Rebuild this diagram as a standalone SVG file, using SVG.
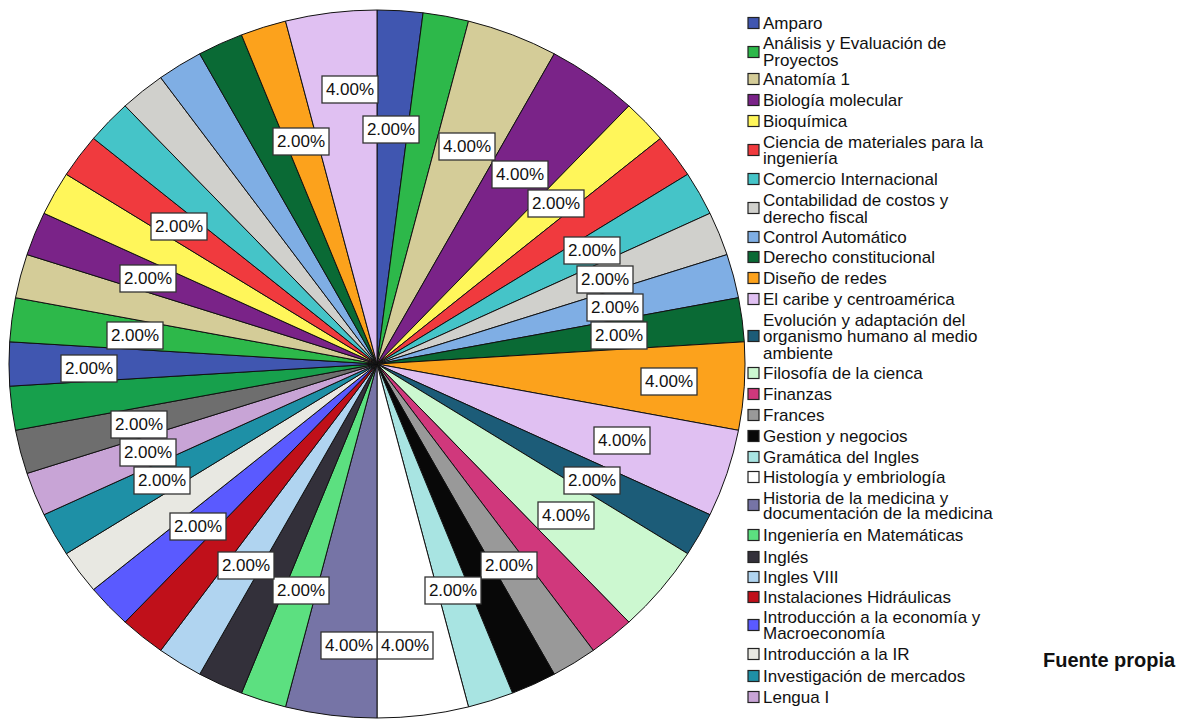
<svg xmlns="http://www.w3.org/2000/svg" width="1181" height="719" viewBox="0 0 1181 719">
<style>
.s{stroke:#111;stroke-width:1;stroke-linejoin:round}
.lb rect{fill:#fff;stroke:#333;stroke-width:1.3}
.lb text{font-family:"Liberation Sans",Arial,sans-serif;font-size:17px;fill:#111;text-anchor:middle}
.lg text{font-family:"Liberation Sans",Arial,sans-serif;font-size:17px;fill:#111}
.lg rect{stroke:#222;stroke-width:1.2}
.ft{font-family:"Liberation Sans",Arial,sans-serif;font-size:20px;font-weight:bold;fill:#111}
.amp{fill:#4056B0}.ana{fill:#2DB84A}.anat{fill:#D4CC98}.bio{fill:#7A2388}.bioq{fill:#FFF65A}
.cien{fill:#F03A3E}.com{fill:#45C4C8}.cont{fill:#D0D0CC}.ctrl{fill:#7FAEE4}.der{fill:#0A6A35}
.dis{fill:#FCA21C}.car{fill:#E0C0F2}.evo{fill:#1C5C78}.fil{fill:#CCF8D0}.fin{fill:#D0387C}
.fra{fill:#999999}.ges{fill:#080808}.gra{fill:#A8E4E2}.his{fill:#FFFFFF}.hme{fill:#7674A6}
.ing{fill:#5CE080}.ingl{fill:#33303A}.i8{fill:#B0D4F0}.ins{fill:#C0101A}.eco{fill:#5A5AFF}
.ir{fill:#E8E8E2}.inv{fill:#1E90A6}.len{fill:#C8A4D6}.gr2{fill:#6E6E6E}.gn2{fill:#17A04C}
</style>
<rect width="1181" height="719" fill="#fff"/>
<g id="pie">
<g id="slice-01"><path class="s amp" d="M377 364 L377 10 A368 354 0 0 1 423.1 12.8 Z"/></g>
<g id="slice-02"><path class="s ana" d="M377 364 L423.1 12.8 A368 354 0 0 1 468.5 21.1 Z"/></g>
<g id="slice-03"><path class="s anat" d="M377 364 L468.5 21.1 A368 354 0 0 1 554.3 53.8 Z"/></g>
<g id="slice-04"><path class="s bio" d="M377 364 L554.3 53.8 A368 354 0 0 1 628.9 105.9 Z"/></g>
<g id="slice-05"><path class="s bioq" d="M377 364 L628.9 105.9 A368 354 0 0 1 660.5 138.4 Z"/></g>
<g id="slice-06"><path class="s cien" d="M377 364 L660.5 138.4 A368 354 0 0 1 687.7 174.3 Z"/></g>
<g id="slice-07"><path class="s com" d="M377 364 L687.7 174.3 A368 354 0 0 1 710 213.3 Z"/></g>
<g id="slice-08"><path class="s cont" d="M377 364 L710 213.3 A368 354 0 0 1 727 254.6 Z"/></g>
<g id="slice-09"><path class="s ctrl" d="M377 364 L727 254.6 A368 354 0 0 1 738.5 297.7 Z"/></g>
<g id="slice-10"><path class="s der" d="M377 364 L738.5 297.7 A368 354 0 0 1 744.3 341.8 Z"/></g>
<g id="slice-11"><path class="s dis" d="M377 364 L744.3 341.8 A368 354 0 0 1 738.5 430.3 Z"/></g>
<g id="slice-12"><path class="s car" d="M377 364 L738.5 430.3 A368 354 0 0 1 710 514.7 Z"/></g>
<g id="slice-13"><path class="s evo" d="M377 364 L710 514.7 A368 354 0 0 1 687.7 553.7 Z"/></g>
<g id="slice-14"><path class="s fil" d="M377 364 L687.7 553.7 A368 354 0 0 1 628.9 622.1 Z"/></g>
<g id="slice-15"><path class="s fin" d="M377 364 L628.9 622.1 A368 354 0 0 1 593.3 650.4 Z"/></g>
<g id="slice-16"><path class="s fra" d="M377 364 L593.3 650.4 A368 354 0 0 1 554.3 674.2 Z"/></g>
<g id="slice-17"><path class="s ges" d="M377 364 L554.3 674.2 A368 354 0 0 1 512.5 693.1 Z"/></g>
<g id="slice-18"><path class="s gra" d="M377 364 L512.5 693.1 A368 354 0 0 1 468.5 706.9 Z"/></g>
<g id="slice-19"><path class="s his" d="M377 364 L468.5 706.9 A368 354 0 0 1 377 718 Z"/></g>
<g id="slice-20"><path class="s hme" d="M377 364 L377 718 A368 354 0 0 1 285.5 706.9 Z"/></g>
<g id="slice-21"><path class="s ing" d="M377 364 L285.5 706.9 A368 354 0 0 1 241.5 693.1 Z"/></g>
<g id="slice-22"><path class="s ingl" d="M377 364 L241.5 693.1 A368 354 0 0 1 199.7 674.2 Z"/></g>
<g id="slice-23"><path class="s i8" d="M377 364 L199.7 674.2 A368 354 0 0 1 160.7 650.4 Z"/></g>
<g id="slice-24"><path class="s ins" d="M377 364 L160.7 650.4 A368 354 0 0 1 125.1 622.1 Z"/></g>
<g id="slice-25"><path class="s eco" d="M377 364 L125.1 622.1 A368 354 0 0 1 93.5 589.6 Z"/></g>
<g id="slice-26"><path class="s ir" d="M377 364 L93.5 589.6 A368 354 0 0 1 66.3 553.7 Z"/></g>
<g id="slice-27"><path class="s inv" d="M377 364 L66.3 553.7 A368 354 0 0 1 44 514.7 Z"/></g>
<g id="slice-28"><path class="s len" d="M377 364 L44 514.7 A368 354 0 0 1 27 473.4 Z"/></g>
<g id="slice-29"><path class="s gr2" d="M377 364 L27 473.4 A368 354 0 0 1 15.5 430.3 Z"/></g>
<g id="slice-30"><path class="s gn2" d="M377 364 L15.5 430.3 A368 354 0 0 1 9.7 386.2 Z"/></g>
<g id="slice-31"><path class="s amp" d="M377 364 L9.7 386.2 A368 354 0 0 1 9.7 341.8 Z"/></g>
<g id="slice-32"><path class="s ana" d="M377 364 L9.7 341.8 A368 354 0 0 1 15.5 297.7 Z"/></g>
<g id="slice-33"><path class="s anat" d="M377 364 L15.5 297.7 A368 354 0 0 1 27 254.6 Z"/></g>
<g id="slice-34"><path class="s bio" d="M377 364 L27 254.6 A368 354 0 0 1 44 213.3 Z"/></g>
<g id="slice-35"><path class="s bioq" d="M377 364 L44 213.3 A368 354 0 0 1 66.3 174.3 Z"/></g>
<g id="slice-36"><path class="s cien" d="M377 364 L66.3 174.3 A368 354 0 0 1 93.5 138.4 Z"/></g>
<g id="slice-37"><path class="s com" d="M377 364 L93.5 138.4 A368 354 0 0 1 125.1 105.9 Z"/></g>
<g id="slice-38"><path class="s cont" d="M377 364 L125.1 105.9 A368 354 0 0 1 160.7 77.6 Z"/></g>
<g id="slice-39"><path class="s ctrl" d="M377 364 L160.7 77.6 A368 354 0 0 1 199.7 53.8 Z"/></g>
<g id="slice-40"><path class="s der" d="M377 364 L199.7 53.8 A368 354 0 0 1 241.5 34.9 Z"/></g>
<g id="slice-41"><path class="s dis" d="M377 364 L241.5 34.9 A368 354 0 0 1 285.5 21.1 Z"/></g>
<g id="slice-42"><path class="s car" d="M377 364 L285.5 21.1 A368 354 0 0 1 377 10 Z"/></g>
</g>
<g id="labels" class="lb">
<g><rect x="322" y="76" width="56" height="27"/><text x="350" y="95">4.00%</text></g>
<g><rect x="273" y="128" width="56" height="27"/><text x="301" y="147">2.00%</text></g>
<g><rect x="363" y="116" width="56" height="27"/><text x="391" y="135">2.00%</text></g>
<g><rect x="439" y="133" width="56" height="27"/><text x="467" y="152">4.00%</text></g>
<g><rect x="492" y="161" width="56" height="27"/><text x="520" y="180">4.00%</text></g>
<g><rect x="528" y="190" width="56" height="27"/><text x="556" y="209">2.00%</text></g>
<g><rect x="564" y="237" width="56" height="27"/><text x="592" y="256">2.00%</text></g>
<g><rect x="577" y="266" width="56" height="27"/><text x="605" y="285">2.00%</text></g>
<g><rect x="587" y="294" width="56" height="27"/><text x="615" y="313">2.00%</text></g>
<g><rect x="591" y="322" width="56" height="27"/><text x="619" y="341">2.00%</text></g>
<g><rect x="641" y="368" width="56" height="27"/><text x="669" y="387">4.00%</text></g>
<g><rect x="594" y="427" width="56" height="27"/><text x="622" y="446">4.00%</text></g>
<g><rect x="564" y="467" width="56" height="27"/><text x="592" y="486">2.00%</text></g>
<g><rect x="538" y="502" width="56" height="27"/><text x="566" y="521">4.00%</text></g>
<g><rect x="481" y="552" width="56" height="27"/><text x="509" y="571">2.00%</text></g>
<g><rect x="425" y="577" width="56" height="27"/><text x="453" y="596">2.00%</text></g>
<g><rect x="377" y="632" width="56" height="27"/><text x="405" y="651">4.00%</text></g>
<g><rect x="321" y="632" width="56" height="27"/><text x="349" y="651">4.00%</text></g>
<g><rect x="273" y="577" width="56" height="27"/><text x="301" y="596">2.00%</text></g>
<g><rect x="218" y="552" width="56" height="27"/><text x="246" y="571">2.00%</text></g>
<g><rect x="170" y="513" width="56" height="27"/><text x="198" y="532">2.00%</text></g>
<g><rect x="134" y="467" width="56" height="27"/><text x="162" y="486">2.00%</text></g>
<g><rect x="120" y="439" width="56" height="27"/><text x="148" y="458">2.00%</text></g>
<g><rect x="111" y="411" width="56" height="27"/><text x="139" y="430">2.00%</text></g>
<g><rect x="61" y="355" width="56" height="27"/><text x="89" y="374">2.00%</text></g>
<g><rect x="107" y="322" width="56" height="27"/><text x="135" y="341">2.00%</text></g>
<g><rect x="120" y="265" width="56" height="27"/><text x="148" y="284">2.00%</text></g>
<g><rect x="151" y="213" width="56" height="27"/><text x="179" y="232">2.00%</text></g>
</g>
<g id="legend" class="lg">
<g id="lg-amparo"><rect class="amp" x="748" y="17.5" width="11" height="11"/><text x="763" y="29">Amparo</text></g>
<g id="lg-analisis"><rect class="ana" x="748" y="46.5" width="11" height="11"/><text x="763" y="49">Análisis y Evaluación de</text><text x="763" y="66">Proyectos</text></g>
<g id="lg-anatomia"><rect class="anat" x="748" y="73.5" width="11" height="11"/><text x="763" y="85">Anatomía 1</text></g>
<g id="lg-biologia"><rect class="bio" x="748" y="94.5" width="11" height="11"/><text x="763" y="106">Biología molecular</text></g>
<g id="lg-bioquimica"><rect class="bioq" x="748" y="115.5" width="11" height="11"/><text x="763" y="127">Bioquímica</text></g>
<g id="lg-ciencia"><rect class="cien" x="748" y="144.5" width="11" height="11"/><text x="763" y="148">Ciencia de materiales para la</text><text x="763" y="164">ingeniería</text></g>
<g id="lg-comercio"><rect class="com" x="748" y="173.5" width="11" height="11"/><text x="763" y="185">Comercio Internacional</text></g>
<g id="lg-contabilidad"><rect class="cont" x="748" y="202.5" width="11" height="11"/><text x="763" y="206">Contabilidad de costos y</text><text x="763" y="223">derecho fiscal</text></g>
<g id="lg-control"><rect class="ctrl" x="748" y="231.5" width="11" height="11"/><text x="763" y="243">Control Automático</text></g>
<g id="lg-derecho"><rect class="der" x="748" y="251.5" width="11" height="11"/><text x="763" y="263">Derecho constitucional</text></g>
<g id="lg-diseno"><rect class="dis" x="748" y="272.5" width="11" height="11"/><text x="763" y="284">Diseño de redes</text></g>
<g id="lg-caribe"><rect class="car" x="748" y="293.5" width="11" height="11"/><text x="763" y="305">El caribe y centroamérica</text></g>
<g id="lg-evolucion"><rect class="evo" x="748" y="330.5" width="11" height="11"/><text x="763" y="326">Evolución y adaptación del</text><text x="763" y="342">organismo humano al medio</text><text x="763" y="359">ambiente</text></g>
<g id="lg-filosofia"><rect class="fil" x="748" y="367.5" width="11" height="11"/><text x="763" y="379">Filosofía de la cienca</text></g>
<g id="lg-finanzas"><rect class="fin" x="748" y="388.5" width="11" height="11"/><text x="763" y="400">Finanzas</text></g>
<g id="lg-frances"><rect class="fra" x="748" y="409.5" width="11" height="11"/><text x="763" y="421">Frances</text></g>
<g id="lg-gestion"><rect class="ges" x="748" y="430.5" width="11" height="11"/><text x="763" y="442">Gestion y negocios</text></g>
<g id="lg-gramatica"><rect class="gra" x="748" y="451.5" width="11" height="11"/><text x="763" y="463">Gramática del Ingles</text></g>
<g id="lg-histologia"><rect class="his" x="748" y="471.5" width="11" height="11"/><text x="763" y="483">Histología y embriología</text></g>
<g id="lg-historia"><rect class="hme" x="748" y="499.5" width="11" height="11"/><text x="763" y="504">Historia de la medicina y</text><text x="763" y="519">documentación de la medicina</text></g>
<g id="lg-ingenieria"><rect class="ing" x="748" y="529.5" width="11" height="11"/><text x="763" y="541">Ingeniería en Matemáticas</text></g>
<g id="lg-ingles"><rect class="ingl" x="748" y="551.5" width="11" height="11"/><text x="763" y="563">Inglés</text></g>
<g id="lg-ingles8"><rect class="i8" x="748" y="571.5" width="11" height="11"/><text x="763" y="583">Ingles VIII</text></g>
<g id="lg-instalaciones"><rect class="ins" x="748" y="591.5" width="11" height="11"/><text x="763" y="603">Instalaciones Hidráulicas</text></g>
<g id="lg-economia"><rect class="eco" x="748" y="619.5" width="11" height="11"/><text x="763" y="623">Introducción a la economía y</text><text x="763" y="639">Macroeconomía</text></g>
<g id="lg-ir"><rect class="ir" x="748" y="648.5" width="11" height="11"/><text x="763" y="660">Introducción a la IR</text></g>
<g id="lg-investigacion"><rect class="inv" x="748" y="670.5" width="11" height="11"/><text x="763" y="682">Investigación de mercados</text></g>
<g id="lg-lengua"><rect class="len" x="748" y="691.5" width="11" height="11"/><text x="763" y="703">Lengua I</text></g>
</g>
<text class="ft" x="1043" y="667">Fuente propia</text>
</svg>
